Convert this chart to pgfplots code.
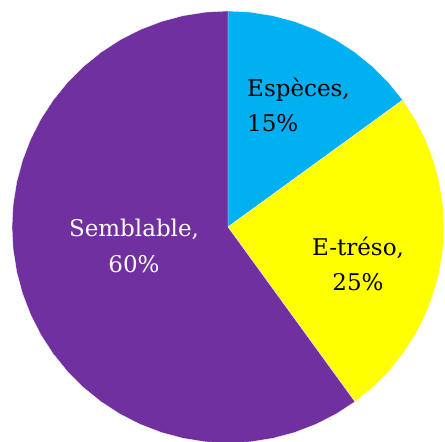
\documentclass[border=0pt]{standalone}
\usepackage{pgfplots}
\pgfplotsset{compat=1.18}
\usepackage{fontspec}
\setmainfont{DejaVu Serif}
\definecolor{cEsp}{HTML}{00B0F0}
\definecolor{cEtr}{HTML}{FFFF00}
\definecolor{cSem}{HTML}{7030A0}
\begin{document}
\begin{tikzpicture}
\begin{axis}[
  scale only axis, width=445pt, height=442pt,
  xmin=-1.0556, xmax=1.0046, ymin=-0.9954, ymax=1.0509,
  hide axis, clip=true,
]
\path[draw=none] (rel axis cs:0,0) rectangle (rel axis cs:1,1);
% Espèces 15% : 90 -> 36
\addplot[data cs=polar, fill=cEsp, draw=white, line width=0.3pt] coordinates {
 (0,0) (90,1) (84,1) (78,1) (72,1) (66,1) (60,1) (54,1) (48,1) (42,1) (36,1)} -- cycle;
% E-tréso 25% : 36 -> -54
\addplot[data cs=polar, fill=cEtr, draw=white, line width=0.3pt] coordinates {
 (0,0) (36,1) (30,1) (24,1) (18,1) (12,1) (6,1) (0,1) (-6,1) (-12,1) (-18,1)
 (-24,1) (-30,1) (-36,1) (-42,1) (-48,1) (-54,1)} -- cycle;
% Semblable 60% : 90 -> 306
\addplot[data cs=polar, fill=cSem, draw=white, line width=0.3pt] coordinates {
 (0,0) (90,1) (96,1) (102,1) (108,1) (114,1) (120,1) (126,1) (132,1) (138,1)
 (144,1) (150,1) (156,1) (162,1) (168,1) (174,1) (180,1) (186,1) (192,1) (198,1)
 (204,1) (210,1) (216,1) (222,1) (228,1) (234,1) (240,1) (246,1) (252,1) (258,1)
 (264,1) (270,1) (276,1) (282,1) (288,1) (294,1) (300,1) (306,1)} -- cycle;
\node[anchor=base west, font=\fontsize{23}{27}\selectfont, inner sep=0pt] at (axis cs:0.088,0.602) {Espèces,};
\node[anchor=base west, font=\fontsize{23}{27}\selectfont, inner sep=0pt] at (axis cs:0.088,0.444) {15\%};
\node[anchor=base, font=\fontsize{23}{27}\selectfont, inner sep=0pt] at (axis cs:0.602,-0.130) {E-tréso,};
\node[anchor=base, font=\fontsize{23}{27}\selectfont, inner sep=0pt] at (axis cs:0.602,-0.296) {25\%};
\node[anchor=base, text=white, font=\fontsize{23}{27}\selectfont, inner sep=0pt] at (axis cs:-0.435,-0.042) {Semblable,};
\node[anchor=base, text=white, font=\fontsize{23}{27}\selectfont, inner sep=0pt] at (axis cs:-0.435,-0.211) {60\%};
\end{axis}
\end{tikzpicture}
\end{document}
